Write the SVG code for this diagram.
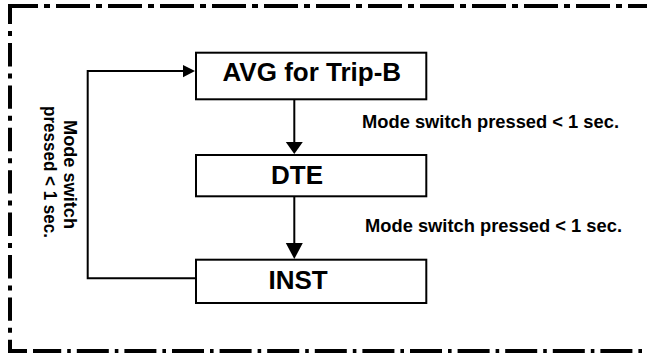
<svg xmlns="http://www.w3.org/2000/svg" width="647" height="353" viewBox="0 0 647 353">
<style>
.bg{fill:#ffffff}
.frame{fill:none;stroke:#000;stroke-width:4}
.box{fill:#fff;stroke:#000;stroke-width:2}
.conn{fill:none;stroke:#000;stroke-width:2}
.head{fill:#000;stroke:none}
.title{font-family:"Liberation Sans",Arial,sans-serif;font-weight:bold;font-size:26px;fill:#000}
.lbl{font-family:"Liberation Sans",Arial,sans-serif;font-weight:bold;font-size:18px;fill:#000}
</style>
<rect class="bg" x="0" y="0" width="647" height="353"/>
<g id="frame">
<path class="frame" d="M8,6 H647" stroke-dasharray="34 6 6 6" stroke-dashoffset="4"/>
<path class="frame" d="M10,4 V353" stroke-dasharray="23.4 7 5 7" stroke-dashoffset="3.4"/>
<path class="frame" d="M8,351 H27"/>
<path class="frame" d="M33,351 H647" stroke-dasharray="32 6 3.6 6" stroke-dashoffset="3.8"/>
</g>
<g id="connectors">
<line class="conn" x1="294.3" y1="100" x2="294.3" y2="143"/>
<polygon class="head" points="285.8,142 302.8,142 294.3,154"/>
<line class="conn" x1="294.3" y1="197" x2="294.3" y2="244"/>
<polygon class="head" points="285.8,243 302.8,243 294.3,259"/>
<path class="conn" d="M195,278.3 H87.7 V71 H184"/>
<polygon class="head" points="183,65 183,77.3 195,71"/>
</g>
<g id="node-avg">
<rect class="box" x="196" y="52.7" width="230.3" height="46.6"/>
<text class="title" x="222.5" y="81">AVG for Trip-B</text>
</g>
<g id="node-dte">
<rect class="box" x="196" y="155" width="230.3" height="41.3"/>
<text class="title" x="271" y="184">DTE</text>
</g>
<g id="node-inst">
<rect class="box" x="196" y="259.7" width="230.3" height="43.3"/>
<text class="title" x="268.5" y="289.3">INST</text>
</g>
<g id="labels">
<text class="lbl" x="362" y="128.3" textLength="257" lengthAdjust="spacingAndGlyphs">Mode switch pressed &lt; 1 sec.</text>
<text class="lbl" x="365" y="231.7" textLength="257" lengthAdjust="spacingAndGlyphs">Mode switch pressed &lt; 1 sec.</text>
<text class="lbl" x="63.5" y="120" transform="rotate(90 63.5 120)" textLength="109" lengthAdjust="spacingAndGlyphs">Mode switch</text>
<text class="lbl" x="43.5" y="106" transform="rotate(90 43.5 106)" textLength="132" lengthAdjust="spacingAndGlyphs">pressed &lt; 1 sec.</text>
</g>
</svg>
